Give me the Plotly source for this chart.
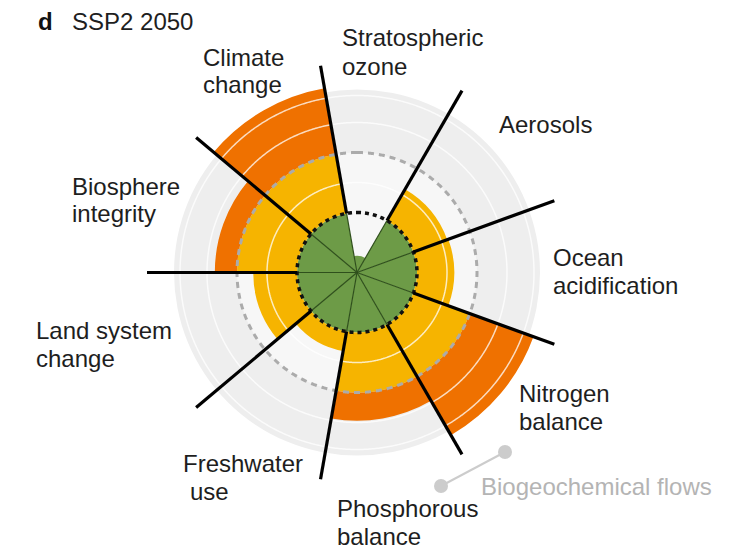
import numpy as np
import plotly.graph_objects as go

# ---------------- data ----------------
categories = ["Stratospheric ozone", "Aerosols", "Ocean acidification",
              "Nitrogen balance", "Phosphorous balance", "Freshwater use",
              "Land system change", "Biosphere integrity", "Climate change"]
# control variable relative to the planetary boundary (1 = boundary)
values = [0.28, 1.60, 1.62, 3.13, 2.47, 1.33, 1.73, 2.37, 3.12]
boundary = 1.0
high_risk = 2.0
grid_levels = [1.5, 2.5, 2.95]
outer_level = 3.05
spoke_length = 3.5

label_lines = {
    "Stratospheric ozone": ["Stratospheric", "ozone"],
    "Aerosols": ["Aerosols"],
    "Ocean acidification": ["Ocean", "acidification"],
    "Nitrogen balance": ["Nitrogen", "balance"],
    "Phosphorous balance": ["Phosphorous", "balance"],
    "Freshwater use": ["Freshwater", "use"],
    "Land system change": ["Land system", "change"],
    "Biosphere integrity": ["Biosphere", "integrity"],
    "Climate change": ["Climate", "change"],
}

# ---------------- layout constants ----------------
W, H = 729, 551
OFF = 8                      # browser body margin
CX, CY = 357, 272.5          # centre of the chart in page px
RMAX = 3.6                   # radial range
PX_PER_UNIT = 60
R_PX = RMAX * PX_PER_UNIT

GREEN = "#6d9b47"
YELLOW = "#f6b400"
ORANGE = "#ef7100"

n = len(categories)
step = 360 / n
theta_c = [10 + step * i for i in range(n)]

v = np.array(values)
green_r = np.minimum(v, boundary)
yellow_r = np.clip(v - boundary, 0, high_risk - boundary)
orange_r = np.maximum(v - high_risk, 0)

fig = go.Figure()

# background discs
fig.add_trace(go.Barpolar(theta=[180], r=[outer_level], width=[360], base=[0],
                          marker=dict(color="#eeeeee", line=dict(width=0)),
                          hoverinfo="skip", showlegend=False))
fig.add_trace(go.Barpolar(theta=[180], r=[high_risk], width=[360], base=[0],
                          marker=dict(color="#f7f7f7", line=dict(width=0)),
                          hoverinfo="skip", showlegend=False))

# wedges
for r_vals, base, col in [(green_r, 0, GREEN), (yellow_r, boundary, YELLOW), (orange_r, high_risk, ORANGE)]:
    fig.add_trace(go.Barpolar(theta=theta_c, r=list(r_vals), base=[base] * n,
                              width=[step] * n,
                              marker=dict(color=col, line=dict(width=0)),
                              hoverinfo="skip", showlegend=False))

circ = np.linspace(0, 360, 721)
# white grid circles
for lv in grid_levels:
    fig.add_trace(go.Scatterpolar(theta=circ, r=[lv] * len(circ), mode="lines",
                                  line=dict(color="rgba(255,255,255,0.75)", width=1.5),
                                  hoverinfo="skip", showlegend=False))

# spokes
spoke_t = [t - step / 2 for t in theta_c]
th_in, r_in, th_out, r_out = [], [], [], []
for t in spoke_t:
    th_in += [t, t, None]
    r_in += [0, boundary, None]
    th_out += [t, t, None]
    r_out += [boundary, spoke_length, None]
fig.add_trace(go.Scatterpolar(theta=th_in, r=r_in, mode="lines",
                              line=dict(color="#2f4f1c", width=1.2),
                              hoverinfo="skip", showlegend=False))

# dashed circles
fig.add_trace(go.Scatterpolar(theta=circ, r=[high_risk] * len(circ), mode="lines",
                              line=dict(color="#ababab", width=3, dash="6px,5px"),
                              hoverinfo="skip", showlegend=False))
fig.add_trace(go.Scatterpolar(theta=circ, r=[boundary] * len(circ), mode="lines",
                              line=dict(color="#111111", width=3.5, dash="4px,4px"),
                              hoverinfo="skip", showlegend=False))

fig.add_trace(go.Scatterpolar(theta=th_out, r=r_out, mode="lines",
                              line=dict(color="#000000", width=3.2),
                              hoverinfo="skip", showlegend=False))

# ---------------- annotations ----------------
def px(x):
    return (x - OFF) / W

def py(y):
    return 1 - (y - OFF) / H

FONT = "Liberation Sans, Arial, sans-serif"
TXT = "#1e1e1e"
FS = 24
LINE = 28

label_pos = {  # left x of each line, vertical centre of first line (page px)
    "Stratospheric ozone": ([340, 340], 38),
    "Climate change": ([201, 201], 57),
    "Aerosols": ([497], 124),
    "Biosphere integrity": ([70, 70], 186),
    "Ocean acidification": ([551, 551], 257),
    "Land system change": ([34, 34], 330),
    "Nitrogen balance": ([517, 517], 393),
    "Freshwater use": ([181, 188], 463),
    "Phosphorous balance": ([335, 335], 508),
}
annotations = []
for cat in categories:
    xs, y0 = label_pos[cat]
    for i, line in enumerate(label_lines[cat]):
        annotations.append(dict(x=px(xs[i]), y=py(y0 + i * LINE), xref="paper", yref="paper",
                                text=line, showarrow=False,
                                xanchor="left", yanchor="middle", align="left",
                                font=dict(family=FONT, size=FS, color=TXT)))

annotations.append(dict(x=px(36), y=py(21), xref="paper", yref="paper",
                        text="<b>d</b>", showarrow=False, xanchor="left", yanchor="middle",
                        font=dict(family=FONT, size=24, color="#111111")))
annotations.append(dict(x=px(70), y=py(21), xref="paper", yref="paper",
                        text="SSP2 2050", showarrow=False, xanchor="left", yanchor="middle",
                        font=dict(family=FONT, size=FS, color=TXT)))
annotations.append(dict(x=px(479), y=py(486), xref="paper", yref="paper",
                        text="Biogeochemical flows", showarrow=False, xanchor="left",
                        yanchor="middle",
                        font=dict(family=FONT, size=FS, color="#b4b4b4")))

shapes = [
    dict(type="line", xref="paper", yref="paper", x0=px(441), y0=py(486), x1=px(505), y1=py(452),
         line=dict(color="#cccccc", width=2)),
    dict(type="circle", xref="paper", yref="paper", x0=px(434), y0=py(479), x1=px(448), y1=py(493),
         fillcolor="#cccccc", line=dict(width=0)),
    dict(type="circle", xref="paper", yref="paper", x0=px(498), y0=py(445), x1=px(512), y1=py(459),
         fillcolor="#cccccc", line=dict(width=0)),
]

cxf, cyf = CX - OFF, CY - OFF
fig.update_layout(
    width=W, height=H,
    margin=dict(l=0, r=0, t=0, b=0),
    paper_bgcolor="white",
    plot_bgcolor="white",
    annotations=annotations,
    shapes=shapes,
    polar=dict(
        domain=dict(x=[(cxf - R_PX) / W, (cxf + R_PX) / W],
                    y=[(H - cyf - R_PX) / H, (H - cyf + R_PX) / H]),
        bgcolor="rgba(0,0,0,0)",
        bargap=0,
        radialaxis=dict(range=[0, RMAX], visible=False, showgrid=False),
        angularaxis=dict(rotation=90, direction="clockwise", visible=False,
                         showgrid=False, showline=False, ticks=""),
    ),
)

fig.write_html("out.html")
